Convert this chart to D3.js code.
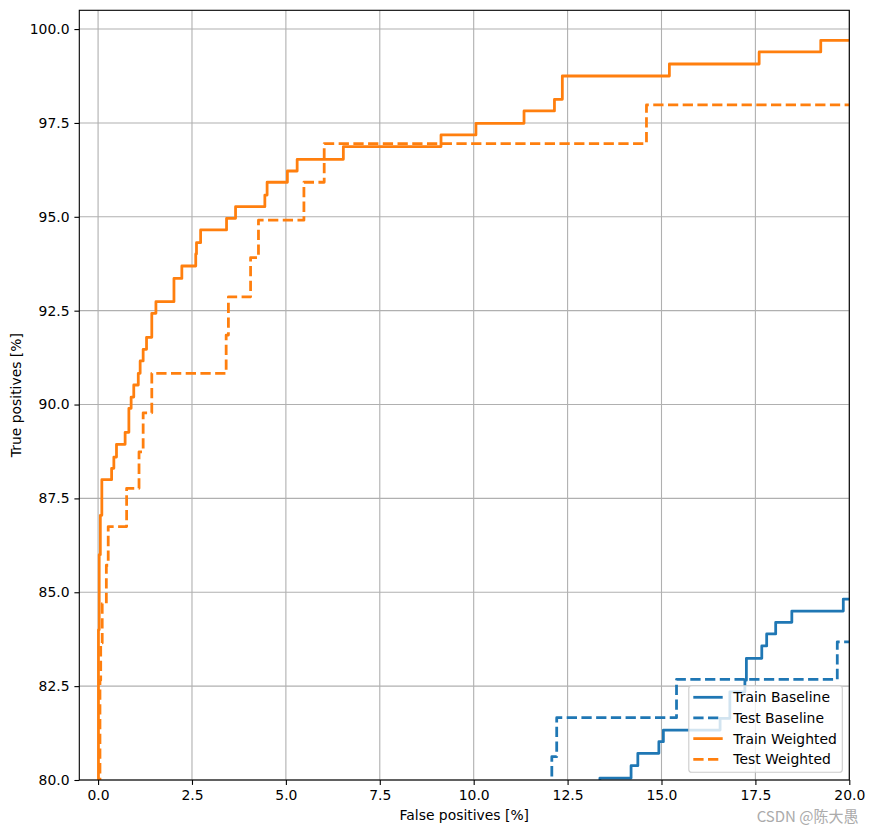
<!DOCTYPE html>
<html>
<head>
<meta charset="utf-8">
<script src="https://cdn.jsdelivr.net/npm/d3@7"></script>
<style>
  html, body { margin: 0; padding: 0; background: #fff; }
  svg { display: block; font-family: "DejaVu Sans", sans-serif; }
</style>
</head>
<body>
<svg id="chart" width="874" height="833"></svg>
<script>
// ---- data (False positives [%], True positives [%]) ----
const trainBaselineFP = [13.0, 13.36, 14.19, 14.37, 14.93, 15.05, 16.56, 16.82, 17.22, 17.26, 17.67, 17.80, 18.04, 18.47, 19.84, 21.0];
const trainBaselineTP = [79.7, 80.05, 80.38, 80.71, 81.02, 81.33, 81.64, 82.35, 82.66, 83.24, 83.57, 83.89, 84.20, 84.50, 84.82, 84.82];

const testBaselineFP = [12.0, 12.08, 12.21, 15.40, 19.68, 21.0];
const testBaselineTP = [79.0, 80.62, 81.66, 82.68, 83.68, 83.68];

const trainWeightedFP = [0.01, 0.01, 0.03, 0.06, 0.10, 0.36, 0.42, 0.49, 0.72, 0.82, 0.88, 0.95, 1.07, 1.12, 1.20, 1.29, 1.43, 1.54, 2.02, 2.23, 2.60, 2.62, 2.73, 3.42, 3.66, 4.44, 4.50, 5.04, 5.30, 6.53, 9.13, 10.06, 11.34, 12.15, 12.36, 15.21, 17.60, 19.24, 21.0];
const trainWeightedTP = [79.0, 84.0, 86.0, 87.05, 88.0, 88.30, 88.60, 88.94, 89.26, 89.90, 90.20, 90.52, 90.83, 91.16, 91.47, 91.79, 92.43, 92.74, 93.36, 93.69, 94.01, 94.31, 94.65, 94.96, 95.27, 95.58, 95.92, 96.22, 96.53, 96.87, 97.18, 97.49, 97.82, 98.13, 98.75, 99.07, 99.39, 99.70, 99.70];

const testWeightedFP = [0.05, 0.05, 0.07, 0.11, 0.22, 0.27, 0.76, 1.09, 1.20, 1.43, 3.41, 3.47, 4.06, 4.27, 5.48, 6.02, 14.60, 21.0];
const testWeightedTP = [79.0, 82.66, 83.65, 84.70, 85.72, 86.75, 87.77, 88.74, 89.78, 90.83, 91.85, 92.87, 93.91, 94.91, 95.92, 96.95, 97.98, 97.98];

const seriesNames = ["Train Baseline", "Test Baseline", "Train Weighted", "Test Weighted"];
const seriesColors = ["#1f77b4", "#1f77b4", "#ff7f0e", "#ff7f0e"];
const seriesDashed = [false, true, false, true];

const xTicks = [0, 2.5, 5, 7.5, 10, 12.5, 15, 17.5, 20];
const yTicks = [80, 82.5, 85, 87.5, 90, 92.5, 95, 97.5, 100];
const xDomain = [-0.5, 20];
const yDomain = [80, 100.5];

// ---- build ----
const series = [
  d3.zip(trainBaselineFP, trainBaselineTP),
  d3.zip(testBaselineFP, testBaselineTP),
  d3.zip(trainWeightedFP, trainWeightedTP),
  d3.zip(testWeightedFP, testWeightedTP)
];

const svg = d3.select("#chart");
const L = 79.3, R = 849.3, T = 10.3, B = 780;
const x = d3.scaleLinear().domain(xDomain).range([L, R]);
const y = d3.scaleLinear().domain(yDomain).range([B, T]);
const fs = 13.9;

svg.append("defs").append("clipPath").attr("id", "clip")
  .append("rect").attr("x", L).attr("y", T).attr("width", R - L).attr("height", B - T);

// grid
const grid = svg.append("g");
grid.selectAll(".gx").data(xTicks).join("line")
  .attr("x1", d => x(d)).attr("x2", d => x(d)).attr("y1", T).attr("y2", B)
  .attr("stroke", "#b0b0b0").attr("stroke-width", 1.1);
grid.selectAll(".gy").data(yTicks).join("line")
  .attr("y1", d => y(d)).attr("y2", d => y(d)).attr("x1", L).attr("x2", R)
  .attr("stroke", "#b0b0b0").attr("stroke-width", 1.1);

// lines
const line = d3.line().x(d => x(d[0])).y(d => y(d[1])).curve(d3.curveStepAfter);
const lines = svg.append("g").attr("clip-path", "url(#clip)");
series.forEach((s, i) => {
  lines.append("path").datum(s)
    .attr("d", line)
    .attr("fill", "none")
    .attr("stroke", seriesColors[i])
    .attr("stroke-width", 2.78)
    .attr("stroke-dasharray", seriesDashed[i] ? "10.28,4.44" : null)
    .attr("stroke-linejoin", "round")
    .attr("stroke-linecap", seriesDashed[i] ? "butt" : "square");
});

// axes
const xAxis = d3.axisBottom(x).tickValues(xTicks).tickFormat(d3.format(".1f")).tickSize(4.9).tickPadding(4.9);
const yAxis = d3.axisLeft(y).tickValues(yTicks).tickFormat(d3.format(".1f")).tickSize(4.9).tickPadding(4.9);
const gx = svg.append("g").attr("transform", `translate(0,${B})`).call(xAxis);
const gy = svg.append("g").attr("transform", `translate(${L},0)`).call(yAxis);
[gx, gy].forEach(g => {
  g.select(".domain").remove();
  g.selectAll(".tick line").attr("stroke", "#000").attr("stroke-width", 1.1);
  g.selectAll(".tick text").attr("fill", "#000").style("font-size", fs + "px").style("font-family", "DejaVu Sans");
});

// spines
svg.append("rect").attr("x", L).attr("y", T).attr("width", R - L).attr("height", B - T)
  .attr("fill", "none").attr("stroke", "#000").attr("stroke-width", 1.1);

// axis labels
svg.append("text").attr("x", (L + R) / 2).attr("y", 815).attr("text-anchor", "middle")
  .attr("dominant-baseline", "central").style("font-size", fs + "px").text("False positives [%]");
svg.append("text").attr("transform", `translate(16,${(T + B) / 2}) rotate(-90)`).attr("text-anchor", "middle")
  .attr("dominant-baseline", "central").style("font-size", fs + "px").text("True positives [%]");

// legend
const lg = svg.append("g");
lg.append("rect").attr("x", 688.8).attr("y", 685.8).attr("width", 153.5).attr("height", 86.5)
  .attr("rx", 2.8).attr("fill", "#fff").attr("fill-opacity", 0.8).attr("stroke", "#cccccc").attr("stroke-width", 1.1);
const rowY = [697.3, 717.9, 738.6, 759.3];
seriesNames.forEach((n, i) => {
  lg.append("line").attr("x1", 693.3).attr("x2", 722.7).attr("y1", rowY[i]).attr("y2", rowY[i])
    .attr("stroke", seriesColors[i]).attr("stroke-width", 2.78)
    .attr("stroke-dasharray", seriesDashed[i] ? "10.28,4.44" : null);
  lg.append("text").attr("x", 733.3).attr("y", rowY[i]).attr("dominant-baseline", "central")
    .style("font-size", fs + "px").attr("fill", "#000").text(n);
});

// watermark
svg.append("text").attr("x", 858.5).attr("y", 815.5).attr("text-anchor", "end").attr("dominant-baseline", "central")
  .style("font-family", "'Noto Sans CJK SC', sans-serif").style("font-size", "15px").attr("fill", "#ababab")
  .text("CSDN @陈大愚");
</script>
</body>
</html>
